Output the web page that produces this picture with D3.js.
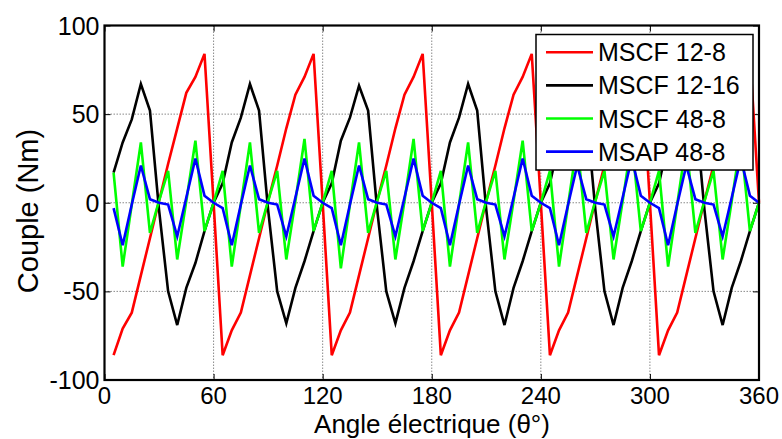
<!DOCTYPE html>
<html><head><meta charset="utf-8">
<script src="https://cdn.jsdelivr.net/npm/d3@7"></script>
<style>
body{margin:0;background:#fff}
svg{display:block}
text{font-family:"Liberation Sans",Arial,Helvetica,sans-serif;fill:#000}
</style>
</head><body>
<svg id="c" width="782" height="439"></svg>
<script>
// ---- data ----
const angles = [5,10,15,20,25,30,35,40,45,50,55,60,
  65,70,75,80,85,90,95,100,105,110,115,120,
  125,130,135,140,145,150,155,160,165,170,175,180,
  185,190,195,200,205,210,215,220,225,230,235,240,
  245,250,255,260,265,270,275,280,285,290,295,300,
  305,310,315,320,325,330,335,340,345,350,355,360];

const mscf12_8 = [-86,-71,-62,-41,-20,1,22,42,62,71,84,0,
  -86,-72,-62,-41,-20,1,21,42,61,71,84,0,
  -86,-72,-62,-41,-20,1,21,42,61,71,84,0,
  -86,-72,-62,-41,-20,1,21,42,61,71,84,0,
  -86,-72,-62,-41,-20,1,21,42,61,71,84,0,
  -86,-72,-62,-41,-20,1,21,42,61,71,84,0];

const mscf12_16 = [17,34,47,67,52,-4,-50,-69,-48,-34,-16,0,
  11,34,48,67,52,-4,-50,-68,-48,-33,-16,0,
  11,35,48,66,52,-4,-50,-68,-48,-33,-16,0,
  11,34,48,67,52,-4,-50,-69,-48,-33,-16,0,
  11,34,48,67,52,-4,-50,-69,-48,-33,-16,0,
  11,34,48,67,52,-4,-50,-69,-48,-33,-16,0];

const mscf48_8 = [17,-36,-1,34,-17,1,18,-32,1,35,-16,0,
  18,-36,-1,34,-17,1,18,-32,1,36,-16,0,
  18,-37,-1,34,-17,1,18,-32,1,36,-16,0,
  18,-36,-1,34,-17,1,18,-32,1,35,-16,0,
  18,-36,-1,34,-17,1,18,-32,1,35,-16,0,
  18,-36,-1,34,-17,1,18,-32,1,35,-16,0];

const msap48_8 = [-3,-24,-1,21,2,0,-1,-19,3,25,4,0,
  -3,-24,-1,21,2,0,-1,-19,3,25,4,0,
  -3,-24,-1,21,2,0,-1,-19,3,25,4,0,
  -3,-24,-1,21,2,0,-1,-19,3,25,4,0,
  -3,-24,-1,21,2,0,-1,-19,3,25,4,0,
  -3,-24,-1,21,2,0,-1,-19,3,25,4,0];

const seriesNames = ["MSCF 12-8","MSCF 12-16","MSCF 48-8","MSAP 48-8"];
const seriesColors = ["#ff0000","#000000","#00ff00","#0000ff"];
const xTicks = [0,60,120,180,240,300,360];
const yTicks = [-100,-50,0,50,100];
const xTitle = "Angle électrique (θ°)";
const yTitle = "Couple (Nm)";

// ---- layout ----
const svg = d3.select("#c");
const L = 104.5, R = 759, T = 25.5, B = 380;
const x = d3.scaleLinear().domain([0,360]).range([L,R]);
const y = d3.scaleLinear().domain([-100,100]).range([B,T]);

// grid
const grid = svg.append("g").attr("stroke","#8a8a8a").attr("stroke-width",1).attr("stroke-dasharray","1.5,1.5");
xTicks.slice(1,-1).forEach(v=>grid.append("line").attr("x1",x(v)).attr("x2",x(v)).attr("y1",T).attr("y2",B));
yTicks.slice(1,-1).forEach(v=>grid.append("line").attr("x1",L).attr("x2",R).attr("y1",y(v)).attr("y2",y(v)));

// axes (ticks inside, box)
const tk = 6;
svg.append("g").attr("transform",`translate(0,${B})`)
  .call(d3.axisTop(x).tickValues(xTicks).tickSize(tk).tickFormat(""))
  .call(g=>g.select(".domain").remove());
svg.append("g").attr("transform",`translate(0,${T})`)
  .call(d3.axisBottom(x).tickValues(xTicks).tickSize(tk).tickFormat(""))
  .call(g=>g.select(".domain").remove());
svg.append("g").attr("transform",`translate(${L},0)`)
  .call(d3.axisRight(y).tickValues(yTicks).tickSize(tk).tickFormat(""))
  .call(g=>g.select(".domain").remove());
svg.append("g").attr("transform",`translate(${R},0)`)
  .call(d3.axisLeft(y).tickValues(yTicks).tickSize(tk).tickFormat(""))
  .call(g=>g.select(".domain").remove());

// tick labels
svg.append("g").selectAll("text").data(xTicks).join("text")
  .attr("x",d=>x(d)).attr("y",404).attr("text-anchor","middle")
  .attr("font-size",24).text(d=>d);
svg.append("g").selectAll("text").data(yTicks).join("text")
  .attr("x",L-5).attr("y",d=>y(d)+9).attr("text-anchor","end")
  .attr("font-size",25).text(d=>d);

// lines
const all = [mscf12_8, mscf12_16, mscf48_8, msap48_8];
const line = d3.line().x((d,i)=>x(angles[i])).y(d=>y(d));
all.forEach((vals,k)=>{
  svg.append("path").datum(vals).attr("d",line)
    .attr("fill","none").attr("stroke",seriesColors[k])
    .attr("stroke-width",2.6).attr("stroke-linejoin","miter");
});

// box
svg.append("rect").attr("x",L).attr("y",T).attr("width",R-L).attr("height",B-T)
  .attr("fill","none").attr("stroke","#000").attr("stroke-width",2.2);

// legend
const lg = svg.append("g");
lg.append("rect").attr("x",536).attr("y",34.5).attr("width",217).attr("height",135.5)
  .attr("fill","#fff").attr("stroke","#000").attr("stroke-width",1.5);
seriesNames.forEach((n,k)=>{
  const yy = 52.3 + k*33.1;
  lg.append("line").attr("x1",546).attr("x2",593).attr("y1",yy).attr("y2",yy)
    .attr("stroke",seriesColors[k]).attr("stroke-width",2.6);
  lg.append("text").attr("x",598).attr("y",yy+9).attr("font-size",25).text(n);
});

// titles
svg.append("text").attr("x",432).attr("y",433).attr("text-anchor","middle")
  .attr("font-size",26).text(xTitle);
svg.append("text").attr("transform","translate(38,211) rotate(-90)")
  .attr("text-anchor","middle").attr("font-size",29).text(yTitle);
</script>
</body></html>
